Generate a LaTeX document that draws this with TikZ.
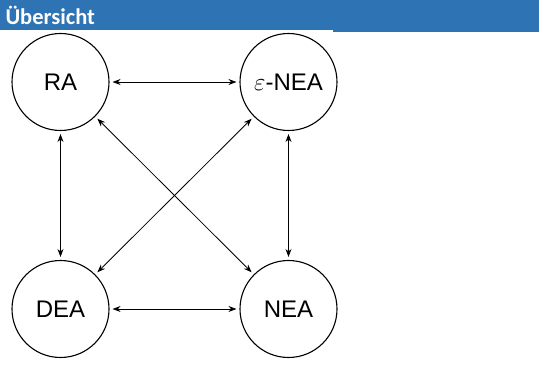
\documentclass[tikz,border=0pt]{standalone}
\usepackage{fontspec}
\setmainfont{Liberation Sans}
\newfontfamily\headfont{Carlito}
\usetikzlibrary{arrows.meta}
\definecolor{headblue}{RGB}{46,116,181}
\tikzset{
  automat/.style={draw, circle, line width=1.1pt, minimum size=97pt, inner sep=0pt, font=\fontsize{24}{28}\selectfont},
  pfeil/.style={{Stealth[length=8pt,width=6pt]}-{Stealth[length=8pt,width=6pt]}, line width=0.8pt, shorten <=3pt, shorten >=3pt}
}
\begin{document}
\begin{tikzpicture}[x=1pt, y=1pt]
  \useasboundingbox (0,0) rectangle (539,367);

  % header
  \fill[headblue] (0,337) rectangle (539,367);
  \fill[headblue] (333,335) rectangle (539,337);
  \node[anchor=west, text=white, font=\headfont\bfseries\fontsize{22.5}{24}\selectfont] (titel) at (2,352) {Übersicht};

  % automata
  \node[automat] (ra)   at (60.5,285)  {RA};
  \node[automat] (enea) at (288.5,285) {$\varepsilon$-NEA};
  \node[automat] (dea)  at (60.5,58)   {DEA};
  \node[automat] (nea)  at (288.5,58)  {NEA};

  % equivalences
  \draw[pfeil] (ra) -- (enea);
  \draw[pfeil] (dea) -- (nea);
  \draw[pfeil] (ra) -- (dea);
  \draw[pfeil] (enea) -- (nea);
  \draw[pfeil] (ra) -- (nea);
  \draw[pfeil] (enea) -- (dea);
\end{tikzpicture}
\end{document}
